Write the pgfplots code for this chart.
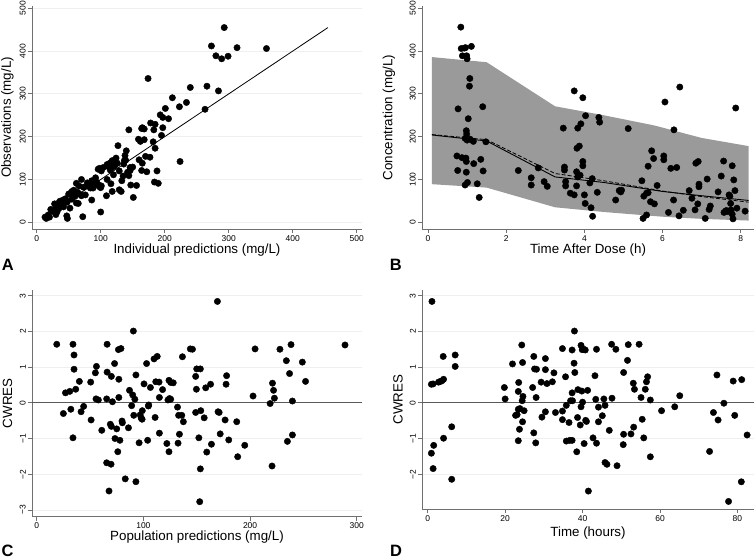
\documentclass[border=0pt]{standalone}
\usepackage{fontspec}
\setmainfont{Liberation Sans}
\usepackage{pgfplots}
\pgfplotsset{compat=1.18}
\definecolor{axgray}{HTML}{707070}
\definecolor{gridc}{HTML}{EDEFF0}
\definecolor{band}{HTML}{9A9A9A}
\definecolor{zeroln}{HTML}{5A5A5A}

\pgfplotsset{
  stata/.style={
    scale only axis, anchor=south west, clip=false,
    axis x line*=bottom, axis y line*=left,
    axis line style={axgray, line width=0.8bp},
    every tick/.style={axgray, line width=0.8bp},
    tick align=outside, major tick length=4bp,
    tick label style={font=\fontsize{8.5}{9}\selectfont, text=black},
    /pgf/number format/assume math mode=true,
    /pgf/number format/1000 sep={},
    xticklabel style={anchor=north, inner sep=2bp},
    yticklabel style={rotate=90, anchor=south, inner sep=2bp},
    label style={font=\fontsize{13.4}{15}\selectfont},
    grid style={gridc, line width=0.8bp},
  },
  dots/.style={only marks, mark=*, mark size=3.2bp, mark options={fill=black, draw=none}},
}

\begin{document}
\begin{tikzpicture}
\useasboundingbox (0,0) rectangle (754bp,559bp);

% A
\begin{axis}[stata, at={(32bp,330bp)}, width=330.3bp, height=223bp,
  xmin=-7.3, xmax=508.7, ymin=-15.7, ymax=505.4,
  xtick={0,100,...,500}, ytick={0,100,...,500}, ymajorgrids,
  ylabel={Observations (mg/L)},
  ylabel style={at={([xshift=-24.5bp]axis description cs:0,0.5)}, anchor=center}]
\addplot[black, line width=0.8bp] coordinates {(10,10)(455,455)};
\addplot[dots] coordinates {
(293,455)(273,412)(280,389)(289,382)(299,388)(313,408)(359,406)
(174,336)(240,315)(266,318)(284,307)(263,264)(212,291)(234,280)(223,270)(201,266)
(206,242)(193,251)(197,245)(197,221)(195,203)(185,229)(183,216)(182,188)(185,173)
(178,232)(165,221)(168,218)(164,219)(144,216)(168,193)(159,194)(162,189)(160,146)
(165,138)(164,121)(170,154)(177,152)(172,118)(188,120)(184,94)(190,91)(224,142)
(127,179)(140,167)(138,156)(139,145)(124,150)(121,141)(115,139)(118,144)(126,138)
(110,135)(112,130)(120,130)(129,120)(137,144)(136,136)(146,128)(142,117)(150,129)
(146,121)(144,109)(135,108)(133,97)(129,76)(132,72)(118,72)(116,90)(120,111)(115,122)
(122,132)(109,62)(94,93)(100,81)(100,24)(156,86)(151,58)(147,87)(104,128)(98,126)
(96,124)(101,120)(110,100)
(70,100)(62,91)(66,85)(73,82)(86,97)(86,87)(92,104)(92,96)(96,88)(99,82)(101,85)
(89,83)(80,85)(84,80)(88,80)(86,52)(72,13)(68,65)(64,70)(58,75)(60,68)(55,72)(52,67)
(55,54)(60,61)(62,45)(65,44)(45,55)(48,48)(41,52)(42,36)(38,40)(35,45)(31,42)(31,27)
(28,30)(25,26)(22,30)(18,17)(15,9)(13,12)(20,12)(30,18)(32,25)(35,33)(40,38)(47,15)
(48,9)(52,33)(50,66)(76,64)(70,62)(79,92)(83,88)(47,47)(28,43)(36,49)};
\end{axis}

% B
\begin{axis}[stata, at={(422bp,330bp)}, width=331.7bp, height=223bp,
  xmin=-0.153, xmax=8.33, ymin=-15.7, ymax=505.4,
  xtick={0,2,...,8}, ytick={0,100,...,500},
  ylabel={Concentration (mg/L)},
  ylabel style={at={([xshift=-33bp]axis description cs:0,0.5)}, anchor=center}]
\addplot[fill=band, draw=none] coordinates {
(0.1,386)(1.5,374)(3.25,271)(4.5,250)(5.8,226)(7.0,197)(8.2,178)
(8.2,4)(7.0,8)(6.0,13)(4.5,24)(3.25,35)(1.5,81)(0.1,89)} -- cycle;
\addplot[black, line width=0.8bp, dash pattern=on 4bp off 2bp] coordinates {
(0.1,205)(1.5,193)(3.25,114)(4.5,97)(6,73)(7,60)(8.2,47)};
\addplot[black, line width=0.9bp] coordinates {
(0.1,204)(1.5,190)(3.25,106)(4.5,93)(6,72)(7,62)(8.2,51)};
\addplot[dots] coordinates {
(0.84,456)(0.85,406)(0.93,407)(0.96,408)(1.11,411)(0.88,389)(0.99,389)(1.0,382)
(1.07,336)(1.06,318)(0.77,265)(1.40,270)(1.03,242)(0.98,214)(0.99,206)(1.0,192)
(0.95,196)(1.08,194)(1.16,189)(1.48,188)(0.74,155)(0.87,151)(0.97,150)(0.98,142)
(1.17,137)(1.35,147)(0.76,121)(0.98,117)(1.41,120)(0.95,87)(1.01,93)(1.26,90)(1.31,58)
(2.31,121)(2.64,104)(2.64,87)(2.82,127)(2.97,95)(3.05,84)(3.46,220)(3.49,129)
(3.49,122)(3.52,95)(3.52,85)
(3.74,307)(3.96,291)(4.03,249)(4.37,245)(4.39,234)(3.91,230)(3.83,220)(3.87,178)
(3.81,173)(3.96,142)(3.96,132)(3.80,118)(3.89,110)(3.83,106)(3.80,85)(4.2,102)
(4.14,92)(4.0,64)(3.64,68)(3.74,64)(4.02,44)(4.17,34)(4.21,14)(4.33,70)(4.8,52)
(4.89,74)(4.95,75)(4.93,71)(5.12,219)(5.47,97)(5.52,61)(5.59,68)(5.63,69)(5.5,9)
(5.59,17)(5.63,131)(5.72,167)(5.77,149)(5.69,48)(5.79,43)(5.86,86)(6.06,281)
(6.03,155)(6.03,146)(6.15,23)(6.21,126)(6.29,216)(6.36,128)(6.28,52)(6.44,316)
(6.42,15)(6.53,28)(6.68,74)(6.75,56)(6.83,29)(6.9,43)(6.85,138)(6.91,142)(6.93,89)
(6.93,83)(7.09,9)(7.19,30)(7.22,38)(7.14,101)(7.42,71)(7.5,108)(7.56,143)(7.57,23)
(7.62,27)(7.67,25)(7.64,27)(7.7,64)(7.72,61)(7.74,44)(7.78,132)(7.82,99)(7.85,74)
(7.87,267)(7.75,29)(7.78,19)(7.8,8)(7.9,33)(8.11,26)};
\end{axis}

% C
\begin{axis}[stata, at={(32bp,42.3bp)}, width=330.3bp, height=226.7bp,
  xmin=-4.4, xmax=305.2, ymin=-3.19, ymax=3.16,
  xtick={0,100,200,300}, ytick={-3,...,3}, yticklabels={−3,−2,−1,0,1,2,3}, ymajorgrids,
  ylabel={CWRES},
  ylabel style={at={([xshift=-24.5bp]axis description cs:0,0.5)}, anchor=center}]
\addplot[zeroln, line width=1.2bp] coordinates {(-4.4,0)(305.2,0)};
\addplot[dots] coordinates {
(18.8,1.64)(34,1.64)(35,1.34)(35,0.94)(40,0.60)(31,0.32)(27,0.28)(36.6,0.38)
(25,-0.30)(32,-0.18)(41.6,-0.25)(44,-0.10)(34,-0.98)(50.6,0.58)(51,-0.48)(55,0.84)
(56,1.02)(55.6,0.11)(57.8,0.08)(61,-0.77)(65.6,0.11)(66,1.64)(66,0.86)(65.6,-1.68)
(69.7,-1.72)(70,0.74)(71,0.03)(69,-0.60)(70,-0.66)(67.8,-2.47)(73,1.10)(73.4,-1.0)
(75,-0.73)(76.6,1.49)(79,1.52)(77,0.66)(77,0.15)(78,-1.05)(76,-1.37)(80,-0.51)
(80.3,-0.56)(83,-2.13)(86,-0.70)(87,0.35)(89,-0.08)(90.6,2.01)(90,0.22)(91,-0.35)
(92,0.10)(93,0.78)(93,-2.21)(96,-1.12)(97,-0.34)(98,-0.43)(98.8,-0.46)(99,-0.22)
(100.6,0.53)(103,1.10)(104,-1.05)(104.7,-0.09)(105,-0.06)(106.6,0.43)(110,1.23)
(113,1.30)(111.6,0.59)(114.7,0.58)(111,-0.41)(115,0.15)(115,-0.85)(118,0.37)
(122,-1.14)(123,0.08)(124.5,0.12)(125.6,0.10)(124,-1.37)(124,0.63)(125.6,0.57)
(128,0.56)(132,-0.12)(132.5,-1.13)(133,-0.35)(136,-0.35)(133.8,-0.88)(136.6,1.29)
(137.5,-0.53)(144,1.51)(146,1.50)(149,0.74)(150,0.95)(153.4,0.95)(149.7,0.38)
(149,-0.27)(152,-0.98)(153.4,-1.85)(152.8,-2.77)(153.8,-0.22)(157,-0.42)(158.4,0.42)
(159.4,-1.38)(163,0.52)(163.8,-1.16)(169.4,2.84)(170,-0.25)(171,-0.27)(172,-0.87)
(176.6,-0.48)(177.5,0.52)(178,0.76)(180,-1.04)(187.5,-0.53)(188.4,-1.51)(195,-1.19)
(202.8,0.19)(204.7,1.51)(218.8,-0.02)(221,0.55)(222,0.35)(220.6,-1.77)(222.8,0.13)
(228,1.50)(234,1.18)(235,-1.08)(237,0.82)(238.4,1.63)(239.7,0.05)(239.7,-0.90)
(249,1.14)(252,0.60)(289,1.62)};
\end{axis}

% D
\begin{axis}[stata, at={(422bp,49.7bp)}, width=331.7bp, height=219.3bp,
  xmin=-1.47, xmax=84.2, ymin=-2.98, ymax=3.16,
  xtick={0,20,...,80}, ytick={-3,...,3}, yticklabels={−3,−2,−1,0,1,2,3}, ymajorgrids,
  ylabel={CWRES},
  ylabel style={at={([xshift=-24bp]axis description cs:0,0.5)}, anchor=center}]
\addplot[zeroln, line width=1.2bp] coordinates {(-1.47,0)(84.2,0)};
\addplot[dots] coordinates {
(1.1,2.84)(0.95,0.52)(1.4,0.53)(0.95,-1.41)(1.55,-1.19)(1.4,-1.84)(2.8,0.58)
(3.3,0.60)(3.7,0.62)(4.1,0.66)(4.0,1.30)(4.1,-0.99)(6.2,-0.67)(6.2,-2.14)(7.1,1.34)
(7.1,1.02)(19.8,0.43)(20,0.11)(21.9,1.09)(22.7,-0.35)(23.1,-0.33)(23.4,0.32)
(23.4,-0.18)(23.8,-0.16)(23.5,0.57)(23.4,-1.06)(23.7,-0.74)(24.3,1.62)(24.5,1.13)
(24.4,0.06)(24.6,0.18)(24.5,-0.53)(24.9,-0.22)(27.1,0.43)(27.4,1.30)(27.6,0.95)
(28.1,0.94)(27.4,-0.84)(28,0.15)(27.9,-1.12)(29.3,0.58)(29.5,-0.40)(30.4,1.24)
(30.4,0.93)(30.4,-0.25)(30.8,0.54)(32.2,0.59)(32.6,0.84)(33,-0.27)(34.8,1.52)
(34.8,-0.23)(34.8,-0.47)(35.6,0.73)(35.8,-0.07)(35.8,-1.07)(36.5,-0.55)(36.7,-1.05)
(37.3,-1.05)(36.9,0.06)(37.4,0.06)(37.3,0.28)(37.3,1.48)(37.8,1.11)(37.9,2.01)
(38,0.85)(38.5,-1.37)(38.7,-0.41)(38.8,0.37)(39.4,-0.62)(39.6,-0.11)(39.6,1.61)
(39.9,1.49)(40.3,1.50)(40.7,1.48)(39.8,0.33)(40,0.02)(40.4,-1.14)(40.8,-0.49)
(41,-0.52)(41.3,0.35)(41.5,-2.47)(42.7,-0.98)(43.2,0.76)(43.6,1.50)(43.4,0.10)
(43.6,-1.13)(44.1,-0.12)(44.1,-0.53)(45.1,-0.36)(45.5,0.11)(45.8,-0.07)(45.8,-1.67)
(46.3,-1.72)(46.9,-0.77)(47.5,1.64)(47.6,0.13)(48.6,1.50)(48.9,-1.76)(50.5,-1.17)
(50.6,0.85)(50.6,-0.88)(51.6,1.19)(51.8,1.63)(52.5,-0.87)(53.1,0.55)(53.2,-0.68)
(53.4,0.38)(54.6,1.64)(55.1,0.15)(55.4,-0.46)(55.8,-0.98)(56.2,0.38)(56.5,0.59)
(56.8,0.73)(57.5,0.08)(57.5,-1.51)(60.4,-0.22)(63.8,-0.11)(65.1,0.20)(72.8,-1.36)
(73.8,-0.27)(74.7,0.78)(75,-0.48)(76.5,-0.01)(77.7,-2.76)(78.9,0.61)(79.3,-0.35)
(81.1,0.65)(81,-2.21)(82.5,-0.90)};
\end{axis}

\begin{scope}[every node/.style={font=\fontsize{13.4}{15}\selectfont, inner sep=0pt, anchor=center}]
\node at (197bp,309bp) {Individual predictions (mg/L)};
\node at (588bp,309bp) {Time After Dose (h)};
\node at (197bp,22bp) {Population predictions (mg/L)};
\node at (588bp,26bp) {Time (hours)};
\end{scope}

\node[anchor=base west, inner sep=0pt, font=\fontsize{16.5}{18}\selectfont\bfseries] at (1.7bp,288bp) {A};
\node[anchor=base west, inner sep=0pt, font=\fontsize{16.5}{18}\selectfont\bfseries] at (389.7bp,288bp) {B};
\node[anchor=base west, inner sep=0pt, font=\fontsize{16.5}{18}\selectfont\bfseries] at (1.5bp,2.5bp) {C};
\node[anchor=base west, inner sep=0pt, font=\fontsize{16.5}{18}\selectfont\bfseries] at (390bp,2.5bp) {D};
\end{tikzpicture}
\end{document}
